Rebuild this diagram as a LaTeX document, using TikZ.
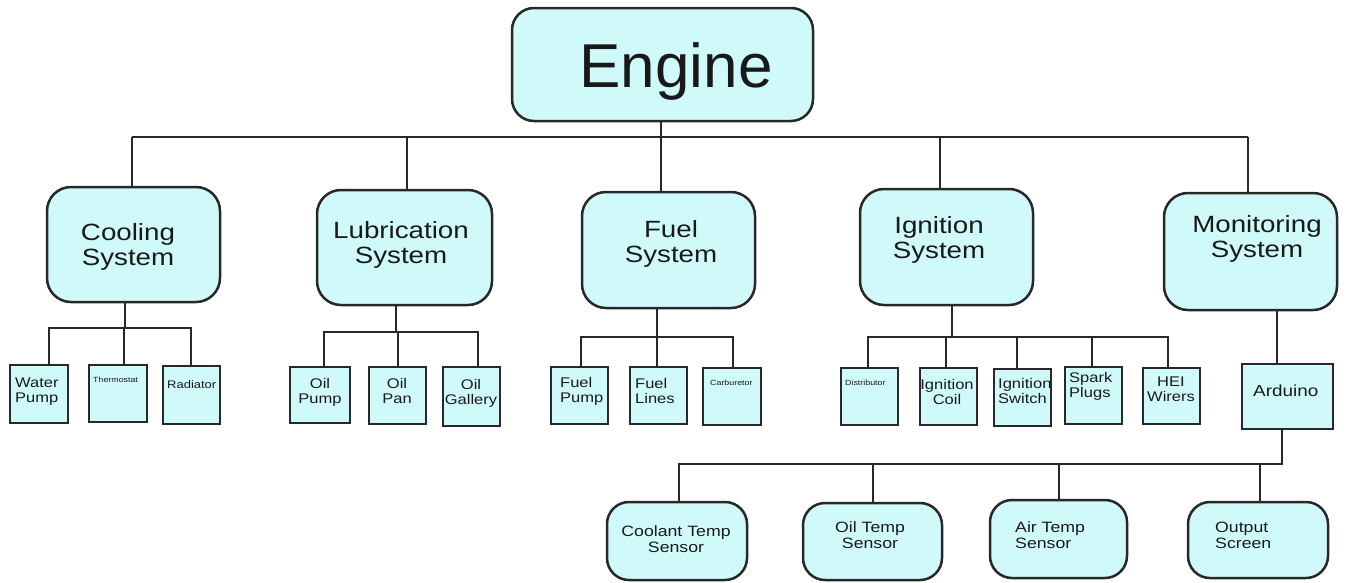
\documentclass[tikz,border=0pt]{standalone}
\usepackage{fontspec}
\setmainfont{Liberation Sans}
\newfontfamily\wfont[FakeStretch=1.18]{Liberation Sans}
\definecolor{boxfill}{RGB}{208,250,250}
\definecolor{ln}{RGB}{40,40,40}
\definecolor{txt}{RGB}{25,25,25}
\newcommand\TC[1]{\begin{tabular}[b]{@{}c@{}}#1\end{tabular}}
\newcommand\TL[1]{\begin{tabular}[b]{@{}l@{}}#1\end{tabular}}
\tikzset{
  conn/.style={draw=ln, line width=2pt},
  rbox/.style={draw=ln, line width=2.5pt, fill=boxfill, rounded corners=24pt, inner sep=0pt},
  sbox/.style={draw=ln, line width=2.5pt, fill=boxfill, inner sep=0pt},
  txtbase/.style={text=txt, inner sep=0pt},
  t2/.style={txtbase, font=\wfont\fontsize{23.5}{25}\selectfont},
  t3/.style={txtbase, font=\wfont\fontsize{14}{15}\selectfont},
  t4/.style={txtbase, font=\wfont\fontsize{15}{16}\selectfont},
  tiny/.style={txtbase, font=\wfont\fontsize{7.5}{8}\selectfont},
}
\begin{document}
\begin{tikzpicture}[x=1pt,y=-1pt]
\fill[white] (0,0) rectangle (1346,582);
\useasboundingbox (0,0) rectangle (1346,582);
% level 1
\node[rbox, rounded corners=22pt, minimum width=301pt, minimum height=113pt] (eng) at (662.5,64.5) {};
\node[txtbase, anchor=base, font=\fontsize{62}{62}\selectfont] (engT) at (676,87) {Engine};
% level 2
\node[rbox, minimum width=173pt, minimum height=115pt] (cool) at (133.5,244.5) {};
\node[rbox, minimum width=175pt, minimum height=115pt] (lub) at (404.5,247.5) {};
\node[rbox, minimum width=173pt, minimum height=116pt] (fuel) at (668.5,250) {};
\node[rbox, minimum width=173pt, minimum height=116pt] (ign) at (946.5,247) {};
\node[rbox, minimum width=173pt, minimum height=117pt] (mon) at (1250.5,251.5) {};
\node[t2, anchor=base] (coolT) at (128,265) {\TC{Cooling\\System}};
\node[t2, anchor=base] (lubT) at (401,263) {\TC{Lubrication\\System}};
\node[t2, anchor=base] (fuelT) at (671,262) {\TC{Fuel\\System}};
\node[t2, anchor=base] (ignT) at (939,258) {\TC{Ignition\\System}};
\node[t2, anchor=base] (monT) at (1257,257) {\TC{Monitoring\\System}};
% level 3
\node[sbox, minimum width=58pt, minimum height=58pt] (wp) at (39,394) {};
\node[sbox, minimum width=58pt, minimum height=57pt] (th) at (118,393.5) {};
\node[sbox, minimum width=57pt, minimum height=58pt] (rad) at (191.5,395) {};
\node[sbox, minimum width=60pt, minimum height=56pt] (op) at (320,395) {};
\node[sbox, minimum width=57pt, minimum height=57pt] (opan) at (397.5,395.5) {};
\node[sbox, minimum width=57pt, minimum height=59pt] (ogal) at (471.5,396.5) {};
\node[sbox, minimum width=57pt, minimum height=57pt] (fp) at (579.5,395.5) {};
\node[sbox, minimum width=57pt, minimum height=57pt] (fl) at (658.5,395.5) {};
\node[sbox, minimum width=58pt, minimum height=57pt] (carb) at (732,396.5) {};
\node[sbox, minimum width=57pt, minimum height=57pt] (dist) at (869.5,396.5) {};
\node[sbox, minimum width=57pt, minimum height=57pt] (icoil) at (948.5,396.5) {};
\node[sbox, minimum width=57pt, minimum height=57pt] (isw) at (1022.5,397.5) {};
\node[sbox, minimum width=57pt, minimum height=57pt] (spk) at (1093.5,395.5) {};
\node[sbox, minimum width=57pt, minimum height=56pt] (hei) at (1171.5,396) {};
\node[sbox, minimum width=91pt, minimum height=65pt] (ard) at (1287.5,396.5) {};
\node[t3, anchor=base west] (wpT) at (15,402) {\TL{Water\\Pump}};
\node[tiny, anchor=base west] (thT) at (93,382) {Thermostat};
\node[txtbase, font=\wfont\fontsize{11}{12}\selectfont, anchor=base west] (radT) at (167,388) {Radiator};
\node[t3, anchor=base] (opT) at (320,403) {\TC{Oil\\Pump}};
\node[t3, anchor=base] (opanT) at (397,403) {\TC{Oil\\Pan}};
\node[t3, anchor=base] (ogalT) at (471,404) {\TC{Oil\\Gallery}};
\node[t3, anchor=base west] (fpT) at (560,402) {\TL{Fuel\\Pump}};
\node[t3, anchor=base west] (flT) at (635,403) {\TL{Fuel\\Lines}};
\node[tiny, anchor=base west] (carbT) at (710,385) {Carburetor};
\node[tiny, anchor=base west] (distT) at (845,385) {Distributor};
\node[t3, anchor=base] (icT) at (947,404) {\TC{Ignition\\Coil}};
\node[t3, anchor=base west] (iswT) at (998,403) {\TL{Ignition\\Switch}};
\node[t3, anchor=base west] (spkT) at (1069,397) {\TL{Spark\\Plugs}};
\node[t3, anchor=base] (heiT) at (1171,401) {\TC{HEI\\Wirers}};
\node[txtbase, font=\wfont\fontsize{16}{17}\selectfont, anchor=base west] (ardT) at (1253,396) {Arduino};
% sensors
\node[rbox, rounded corners=22pt, minimum width=140pt, minimum height=78pt] (cts) at (677,541) {};
\node[rbox, rounded corners=22pt, minimum width=139pt, minimum height=77pt] (ots) at (872.5,541.5) {};
\node[rbox, rounded corners=22pt, minimum width=137pt, minimum height=78pt] (ats) at (1058.5,539) {};
\node[rbox, rounded corners=22pt, minimum width=140pt, minimum height=76pt] (out) at (1258,540) {};
\node[t4, anchor=base] (ctsT) at (676,552) {\TC{Coolant Temp\\Sensor}};
\node[t4, anchor=base] (otsT) at (870,548) {\TC{Oil Temp\\Sensor}};
\node[t4, anchor=base west] (atsT) at (1015,548) {\TL{Air Temp\\Sensor}};
\node[t4, anchor=base west] (outT) at (1215,548) {\TL{Output\\Screen}};
% bus coordinates
\coordinate (b0L) at (132,137);
\coordinate (b0R) at (1248,137);
\coordinate (c1L) at (49,328);
\coordinate (c1R) at (191,328);
\coordinate (c2L) at (324,332);
\coordinate (c2R) at (478,332);
\coordinate (c3L) at (581,337);
\coordinate (c3R) at (733,337);
\coordinate (c4L) at (868,337);
\coordinate (c4R) at (1168,337);
\coordinate (c5L) at (679,464);
\coordinate (c5R) at (1282,464);
% top level connectors
\draw[conn] ([xshift=-1.5pt]eng.south) -- ([xshift=-1.5pt]eng.south |- b0L);
\draw[conn] (b0L) -- (b0R);
\draw[conn] (cool.north -| b0L) -- (b0L);
\draw[conn] ([xshift=2.5pt]lub.north) -- ([xshift=2.5pt]lub.north |- b0L);
\draw[conn] ([xshift=-7.5pt]fuel.north) -- ([xshift=-7.5pt]fuel.north |- b0L);
\draw[conn] ([xshift=-6.5pt]ign.north) -- ([xshift=-6.5pt]ign.north |- b0L);
\draw[conn] (mon.north -| b0R) -- (b0R);
% cooling
\draw[conn] (wp.north -| c1L) -- (c1L) -- (c1R) -- (rad.north -| c1R);
\draw[conn] ([xshift=6pt]th.north) -- ([xshift=6pt]th.north |- c1L);
\draw[conn] ([xshift=-8.5pt]cool.south) -- ([xshift=-8.5pt]cool.south |- c1L);
% lubrication
\draw[conn] (op.north -| c2L) -- (c2L) -- (c2R) -- (ogal.north -| c2R);
\draw[conn] (opan.north) -- (opan.north |- c2L);
\draw[conn] ([xshift=-8.5pt]lub.south) -- ([xshift=-8.5pt]lub.south |- c2L);
% fuel
\draw[conn] (fp.north -| c3L) -- (c3L) -- (c3R) -- (carb.north -| c3R);
\draw[conn] ([xshift=-1.5pt]fl.north) -- ([xshift=-1.5pt]fl.north |- c3L);
\draw[conn] ([xshift=-11.5pt]fuel.south) -- ([xshift=-11.5pt]fuel.south |- c3L);
% ignition
\draw[conn] (dist.north -| c4L) -- (c4L) -- (c4R) -- (hei.north -| c4R);
\draw[conn] ([xshift=-2.5pt]icoil.north) -- ([xshift=-2.5pt]icoil.north |- c4L);
\draw[conn] ([xshift=-5.5pt]isw.north) -- ([xshift=-5.5pt]isw.north |- c4L);
\draw[conn] ([xshift=-1.5pt]spk.north) -- ([xshift=-1.5pt]spk.north |- c4L);
\draw[conn] ([xshift=5.5pt]ign.south) -- ([xshift=5.5pt]ign.south |- c4L);
% monitoring
\draw[conn] ([xshift=26.5pt]mon.south) -- ([xshift=26.5pt]mon.south |- ard.north);
\draw[conn] (ard.south -| c5R) -- (c5R) -- (c5L) -- (cts.north -| c5L);
\draw[conn] (ots.north) -- (ots.north |- c5L);
\draw[conn] (ats.north) -- (ats.north |- c5L);
\draw[conn] ([xshift=2pt]out.north) -- ([xshift=2pt]out.north |- c5L);
\end{tikzpicture}
\end{document}
